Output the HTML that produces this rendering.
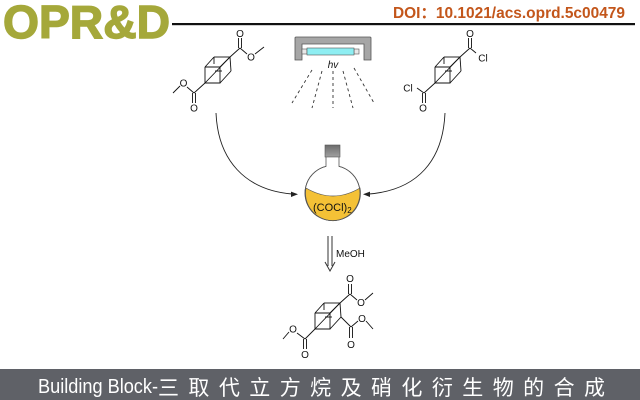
<!DOCTYPE html>
<html><head><meta charset="utf-8"><style>
html,body{margin:0;padding:0;background:#fff;}
svg{display:block;}
text{font-family:"Liberation Sans","Noto Sans CJK SC",sans-serif;}
</style></head><body>
<svg width="640" height="400" viewBox="0 0 640 400" xmlns="http://www.w3.org/2000/svg">
<rect width="640" height="400" fill="#fff"/>
<!-- header -->
<text x="3" y="38" font-size="46" font-weight="bold" fill="#a5a83a" stroke="#a5a83a" stroke-width="1.4" textLength="167" lengthAdjust="spacingAndGlyphs">OPR&amp;D</text>
<rect x="172" y="23" width="463" height="2.2" fill="#111"/>
<text x="393" y="18" font-size="15.5" font-weight="bold" fill="#c3561b" textLength="232" lengthAdjust="spacingAndGlyphs">DOI：10.1021/acs.oprd.5c00479</text>

<!-- lamp -->
<path d="M295,60 V38 Q295,37 296,37 H370 Q371,37 371,38 V60 H364 V44 H302 V60 Z" fill="#a6a6a6" stroke="#555" stroke-width="0.8"/>
<rect x="302" y="49" width="5" height="5" fill="#e8e8e8" stroke="#555" stroke-width="0.6"/>
<rect x="354" y="49" width="5" height="5" fill="#e8e8e8" stroke="#555" stroke-width="0.6"/>
<rect x="307" y="48" width="47" height="7" fill="#8eeef2" stroke="#555" stroke-width="0.6"/>
<text x="333" y="68" font-size="10" font-style="italic" text-anchor="middle" fill="#111">hv</text>
<g stroke="#333" stroke-width="0.9" stroke-dasharray="3,3" fill="none">
<line x1="312" y1="70" x2="292" y2="103"/>
<line x1="322" y1="71" x2="312" y2="108"/>
<line x1="333" y1="71" x2="333" y2="108"/>
<line x1="343" y1="71" x2="353" y2="108"/>
<line x1="354" y1="68" x2="374" y2="103"/>
</g>

<!-- cube definition -->
<defs>
<g id="cube" stroke="#111" stroke-width="0.9" fill="none">
<polyline points="205,67 220,67 220,83 205,83 205,67"/>
<line x1="214" y1="57" x2="230" y2="57"/>
<line x1="230" y1="57" x2="231" y2="71"/>
<line x1="205" y1="67" x2="214" y2="57"/>
<line x1="220" y1="67" x2="230" y2="57"/>
<line x1="220" y1="83" x2="231" y2="71"/>
<line x1="230" y1="57" x2="205" y2="83"/>
<line x1="214" y1="57" x2="214" y2="64"/>
<line x1="215" y1="71" x2="222" y2="71"/>
</g>
</defs>

<!-- left molecule -->
<use href="#cube"/>
<g stroke="#111" stroke-width="0.9" fill="none">
<line x1="230" y1="57" x2="240" y2="48"/>
<line x1="238.5" y1="48" x2="238.5" y2="38"/>
<line x1="241.5" y1="48" x2="241.5" y2="38"/>
<line x1="240" y1="48" x2="247" y2="54"/>
<line x1="255" y1="54" x2="264" y2="47"/>
<line x1="205" y1="83" x2="194" y2="93"/>
<line x1="192.5" y1="93" x2="192.5" y2="103"/>
<line x1="195.5" y1="93" x2="195.5" y2="103"/>
<line x1="194" y1="93" x2="187" y2="87"/>
<line x1="180" y1="86" x2="173" y2="93"/>
</g>
<g font-size="10" fill="#111" text-anchor="middle">
<text x="240" y="37">O</text>
<text x="251" y="60.5">O</text>
<text x="194" y="111.5">O</text>
<text x="183.5" y="86.5">O</text>
</g>

<!-- right molecule -->
<use href="#cube" transform="translate(230,0)"/>
<g stroke="#111" stroke-width="0.9" fill="none">
<line x1="460" y1="57" x2="470" y2="48"/>
<line x1="468.5" y1="48" x2="468.5" y2="38"/>
<line x1="471.5" y1="48" x2="471.5" y2="38"/>
<line x1="470" y1="48" x2="476" y2="53"/>
<line x1="435" y1="83" x2="424" y2="93"/>
<line x1="422.5" y1="93" x2="422.5" y2="103"/>
<line x1="425.5" y1="93" x2="425.5" y2="103"/>
<line x1="424" y1="93" x2="417" y2="88"/>
</g>
<g font-size="10" fill="#111" text-anchor="middle">
<text x="470" y="37">O</text>
<text x="483" y="61.5">Cl</text>
<text x="423" y="111.5">O</text>
<text x="408" y="91.5">Cl</text>
</g>

<!-- curved arrows -->
<g stroke="#222" stroke-width="0.9" fill="none">
<path d="M216,113 C218,160 245,190 292,194"/>
<path d="M445,113 C443,160 418,190 369,194"/>
</g>
<polygon points="298,194.3 291,191.6 291,197" fill="#222"/>
<polygon points="363,194.3 370,191.6 370,197" fill="#222"/>

<!-- flask -->
<defs>
<linearGradient id="jg" x1="0" y1="0" x2="0" y2="1">
<stop offset="0" stop-color="#6c6c6c"/><stop offset="1" stop-color="#a0a0a0"/>
</linearGradient>
</defs>
<path d="M326,157 V166.4 A27.5,27.5 0 1 0 339,166.4 V157" fill="#fff" stroke="#555" stroke-width="0.8"/>
<path d="M306,188 Q333,204 360,188 A27.5,27.5 0 1 1 306,188 Z" fill="#f4c136" stroke="#555" stroke-width="0.7"/>
<path d="M326,166.4 A27.5,27.5 0 1 0 339,166.4" fill="none" stroke="#555" stroke-width="0.8"/>
<rect x="325" y="145" width="15" height="12" fill="url(#jg)" stroke="#555" stroke-width="0.6"/>
<text x="313" y="211" font-size="11" fill="#111">(COCl)<tspan font-size="8" dy="2">2</tspan></text>

<!-- MeOH arrow -->
<g stroke="#333" stroke-width="1" fill="none">
<line x1="328" y1="236" x2="328" y2="266"/>
<line x1="332" y1="236" x2="332" y2="266"/>
<polyline points="325,262 330,271 335,262"/>
</g>
<text x="336" y="257" font-size="10" fill="#111">MeOH</text>

<!-- product -->
<use href="#cube" transform="translate(110,246)"/>
<g stroke="#111" stroke-width="0.9" fill="none">
<line x1="340" y1="303" x2="350" y2="294"/>
<line x1="348.5" y1="294" x2="348.5" y2="284"/>
<line x1="351.5" y1="294" x2="351.5" y2="284"/>
<line x1="350" y1="294" x2="357" y2="300"/>
<line x1="365" y1="300" x2="373" y2="293"/>
<line x1="341" y1="317" x2="351" y2="327"/>
<line x1="349.5" y1="327" x2="349.5" y2="338"/>
<line x1="352.5" y1="327" x2="352.5" y2="338"/>
<line x1="351" y1="327" x2="358" y2="321"/>
<line x1="366" y1="321" x2="373" y2="329"/>
<line x1="315" y1="329" x2="305" y2="339"/>
<line x1="303.5" y1="339" x2="303.5" y2="349"/>
<line x1="306.5" y1="339" x2="306.5" y2="349"/>
<line x1="305" y1="339" x2="297" y2="333"/>
<line x1="289" y1="332" x2="283" y2="339"/>
</g>
<g font-size="10" fill="#111" text-anchor="middle">
<text x="350" y="282">O</text>
<text x="361" y="306">O</text>
<text x="351" y="348">O</text>
<text x="362" y="322">O</text>
<text x="305" y="358">O</text>
<text x="293" y="332.5">O</text>
</g>

<!-- bottom banner -->
<rect x="0" y="369" width="640" height="31" fill="#5f6167"/>
<text x="38" y="393" font-size="20" fill="#fff" textLength="120" lengthAdjust="spacingAndGlyphs">Building Block-</text>
<text x="158" y="395" font-size="21" fill="#fff" textLength="447" lengthAdjust="spacing" font-family="'Noto Sans CJK SC',sans-serif">三取代立方烷及硝化衍生物的合成</text>
</svg>
</body></html>
